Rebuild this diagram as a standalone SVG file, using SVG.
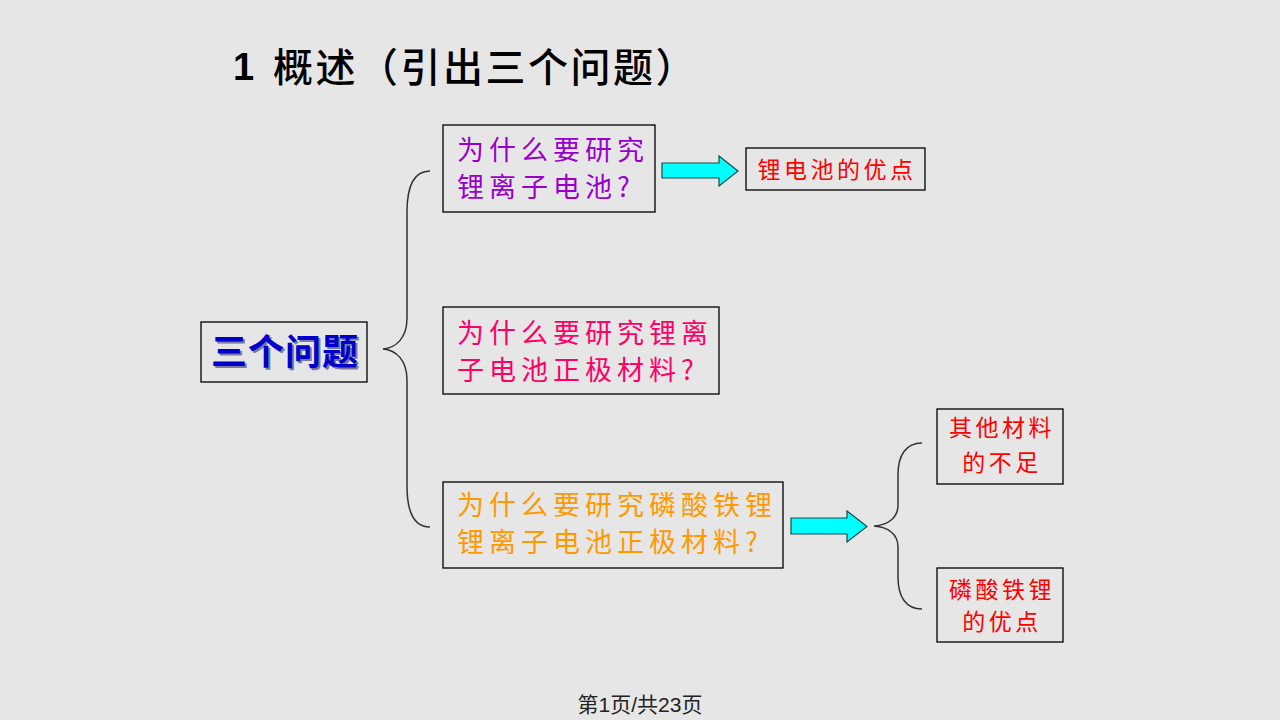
<svg xmlns="http://www.w3.org/2000/svg" width="1280" height="720" viewBox="0 0 1280 720">
<style>
.box{fill:none;stroke:#000;stroke-width:1.3}
.cjk{font-family:"Noto Sans CJK SC","Liberation Sans",sans-serif}
.q{font-size:27px;letter-spacing:5px}
.s{font-size:23px;letter-spacing:3.5px;fill:#ff0000;text-anchor:middle}
.brace{fill:none;stroke:#333;stroke-width:1.5}
.arrow{fill:#00ffff;stroke:#1a4a4a;stroke-width:1.2}
</style>
<rect width="1280" height="720" fill="#e6e6e6"/>
<g id="title">
<text x="233" y="80" font-family="Liberation Sans,sans-serif" font-weight="bold" font-size="38" fill="#000">1</text>
<text x="273" y="82" class="cjk" font-size="40" font-weight="500" letter-spacing="2.5" fill="#000">概述（引出三个问题）</text>
</g>
<g id="root">
<rect class="box" x="201" y="322" width="166" height="60"/>
<text x="287" y="367" class="cjk" font-size="36" font-weight="bold" fill="#7a7aa0" text-anchor="middle" letter-spacing="1">三个问题</text>
<text x="285" y="365" class="cjk" font-size="36" font-weight="bold" fill="#0000cc" text-anchor="middle" letter-spacing="1">三个问题</text>
</g>
<g id="q1">
<rect class="box" x="443" y="125" width="212" height="87"/>
<text class="cjk q" fill="#9900cc"><tspan x="457" y="160">为什么要研究</tspan><tspan x="457" y="197">锂离子电池?</tspan></text>
</g>
<g id="q2">
<rect class="box" x="443" y="307" width="276" height="87"/>
<text class="cjk q" fill="#ff0066"><tspan x="457" y="343">为什么要研究锂离</tspan><tspan x="457" y="380">子电池正极材料?</tspan></text>
</g>
<g id="q3">
<rect class="box" x="443" y="482" width="340" height="86"/>
<text class="cjk q" fill="#ff9900"><tspan x="457" y="515">为什么要研究磷酸铁锂</tspan><tspan x="457" y="552">锂离子电池正极材料?</tspan></text>
</g>
<g id="a1">
<rect class="box" x="746" y="148" width="179" height="42"/>
<text class="cjk s" x="837" y="178">锂电池的优点</text>
</g>
<g id="b1">
<rect class="box" x="937" y="409" width="126" height="75"/>
<text class="cjk s"><tspan x="1002" y="436">其他材料</tspan><tspan x="1002" y="471">的不足</tspan></text>
</g>
<g id="b2">
<rect class="box" x="937" y="568" width="126" height="74"/>
<text class="cjk s"><tspan x="1002" y="598">磷酸铁锂</tspan><tspan x="1002" y="630">的优点</tspan></text>
</g>
<g id="connectors">
<path class="brace" d="M430,171 C414,171 407,186 407,212 L407,318 C407,338 396,348 383,349 C396,350 407,360 407,380 L407,486 C407,512 414,527 430,527"/>
<path class="brace" d="M922,443 C906,443 898,455 898,475 L898,505 C898,518 888,525 874,526 C888,527 898,534 898,547 L898,577 C898,597 906,609 922,609"/>
<polygon class="arrow" points="662,163 719,163 719,156 738,171 719,186 719,178 662,178"/>
<polygon class="arrow" points="791,518 847,518 847,511 867,526.5 847,542 847,534 791,534"/>
</g>
<text x="640" y="712" font-family="Liberation Sans,'Noto Sans CJK SC',sans-serif" font-size="21" fill="#222" text-anchor="middle">第1页/共23页</text>
</svg>
